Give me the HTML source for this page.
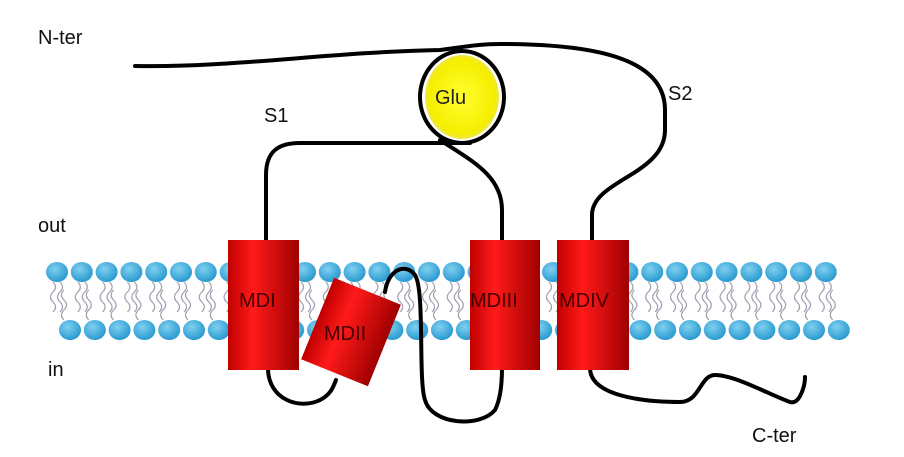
<!DOCTYPE html>
<html><head><meta charset="utf-8"><style>
html,body{margin:0;padding:0;background:#fff;}
svg{display:block;font-family:"Liberation Sans",Arial,sans-serif;}
</style></head><body>
<svg id="s" width="904" height="457" viewBox="0 0 904 457" xmlns="http://www.w3.org/2000/svg">
<defs>
<radialGradient id="hg" cx="40%" cy="35%" r="65%"><stop offset="0" stop-color="#7fd0f0"/><stop offset="1" stop-color="#2a9ad0"/></radialGradient>
<linearGradient id="rg" x1="0" x2="1" y1="0" y2="0"><stop offset="0" stop-color="#c00000"/><stop offset="0.35" stop-color="#ff1a1a"/><stop offset="1" stop-color="#a00000"/></linearGradient>
<radialGradient id="yg" cx="50%" cy="50%" r="55%"><stop offset="0" stop-color="#ffff30"/><stop offset="0.8" stop-color="#f5ee00"/><stop offset="1" stop-color="#e8e080"/></radialGradient>
</defs>
<g id="lip"></g>
<g fill="none" stroke="#000" stroke-width="4" stroke-linecap="round">
<path d="M135,66 C230,68 330,52 440,50 C470,46 480,44 500,44 C600,44 665,60 665,110 L665,130 C665,175 592,180 592,215 L592,242"/>
<ellipse cx="462" cy="97" rx="42" ry="46"/>
<path d="M266,242 L266,175 C266,150 280,143 300,143 L470,143"/>
<path d="M440,140 C470,160 502,175 502,210 L502,242"/>
<path d="M268,368 C268,400 300,410 320,400 C330,395 333,388 336,380"/>
<path d="M385,292 C388,270 405,262 415,275 C425,290 418,380 425,400 C432,425 480,428 495,410 C500,400 502,385 502,368"/>
<path d="M590,368 C590,395 640,402 680,402 C700,402 700,375 715,375 C735,375 770,395 790,402 C800,405 805,385 805,377"/>
</g>
<ellipse cx="462" cy="97" rx="37" ry="42" fill="url(#yg)"/>
<text x="435" y="104" font-size="20" fill="#222">Glu</text>
<g>
<rect x="228" y="240" width="71" height="130" fill="url(#rg)"/>
<text x="239" y="307" font-size="20" fill="#400">MDI</text>
<g transform="rotate(22 351 332)">
<rect x="315" y="288" width="72" height="88" fill="url(#rg)"/>
</g>
<text x="324" y="340" font-size="20" fill="#400">MDII</text>
<rect x="470" y="240" width="70" height="130" fill="url(#rg)"/>
<text x="470" y="307" font-size="20" fill="#400">MDIII</text>
<rect x="557" y="240" width="72" height="130" fill="url(#rg)"/>
<text x="559" y="307" font-size="20" fill="#400">MDIV</text>
</g>
<g font-size="20" fill="#111">
<text x="38" y="44">N-ter</text>
<text x="264" y="122">S1</text>
<text x="668" y="100">S2</text>
<text x="38" y="232">out</text>
<text x="48" y="376">in</text>
<text x="752" y="442">C-ter</text>
</g>
</svg>
<script>
var g=document.getElementById("lip"),h="";
for(var x=57;x<=850;x+=24.8){
 h+='<path d="M'+(x-4)+',282 q5,5 0,10 q-5,5 0,10 q5,5 0,10 M'+(x+3)+',282 q5,5 0,10 q-5,5 0,10 q5,5 0,10" stroke="#a0a0b0" stroke-width="1.2" fill="none"/>';
}
for(var x=70;x<=862;x+=24.8){
 h+='<path d="M'+(x-6)+',320 q-5,-5 0,-10 q5,-5 0,-10 q-5,-5 0,-10" stroke="#a0a0b0" stroke-width="1.2" fill="none"/>';
}
for(var x=57;x<=850;x+=24.8) h+='<ellipse cx="'+x+'" cy="272" rx="11" ry="10" fill="url(#hg)"/>';
for(var x=70;x<=862;x+=24.8) h+='<ellipse cx="'+x+'" cy="330" rx="11" ry="10" fill="url(#hg)"/>';
g.innerHTML=h;
</script>
</body></html>
